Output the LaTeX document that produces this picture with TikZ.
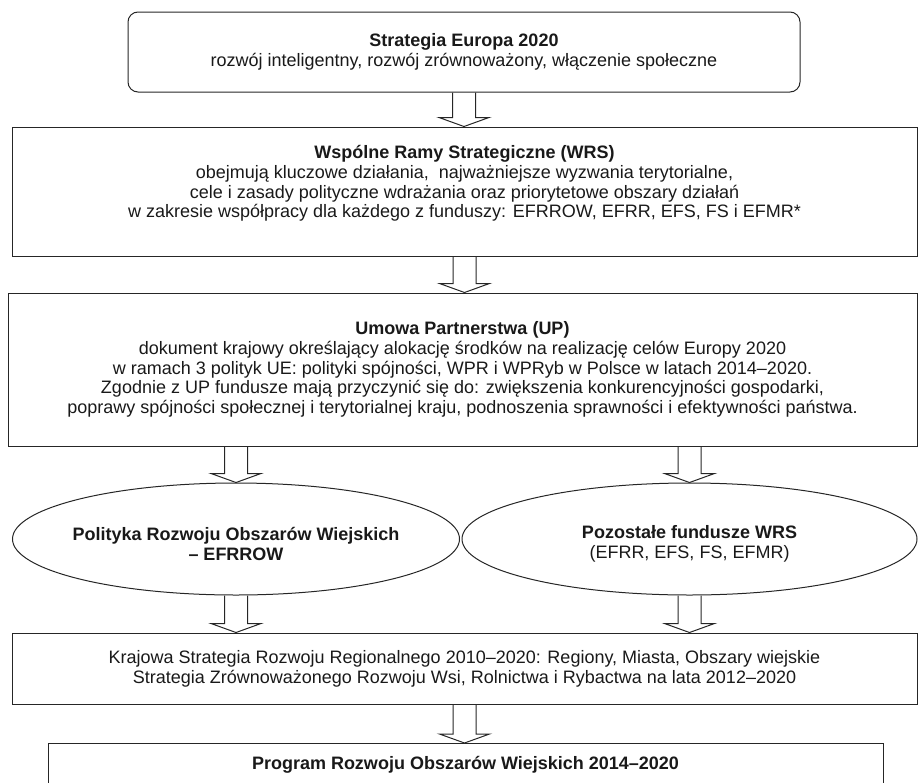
\documentclass[tikz,border=0pt]{standalone}
\usepackage{fontspec}
\setmainfont{Liberation Sans}
\usetikzlibrary{shapes.geometric,calc}

% hollow block arrow, from #1 straight down to the level of #2
\newcommand{\flowarrow}[2]{%
	\draw[flow] let \p1=(#1), \p2=(#2) in
		(\x1-11.5pt,\y1) -- (\x1-11.5pt,\y2+9pt) -- (\x1-25pt,\y2+9pt) -- (\x1,\y2)
		-- (\x1+25pt,\y2+9pt) -- (\x1+11.5pt,\y2+9pt) -- (\x1+11.5pt,\y1);}

\begin{document}
\begin{tikzpicture}[x=1pt,y=-1pt,
		box/.style={draw=black!85, line width=1pt, rectangle, align=center, inner sep=0pt,
			text=black!90, font=\fontsize{18}{19.7}\selectfont},
		roundbox/.style={box, rounded corners=10pt},
		oval/.style={draw=black!85, line width=1pt, ellipse, inner sep=0pt},
		ovaltext/.style={align=center, inner sep=0pt, text=black!90,
			font=\fontsize{18}{19.7}\selectfont},
		flow/.style={draw=black!85, line width=1pt, line join=miter}]
	\clip (0,0) rectangle (918,782);
	\node[roundbox, minimum width=672pt, minimum height=80pt] (es) at (464,52)
		{\textbf{Strategia Europa 2020}\\
		rozwój inteligentny, rozwój zrównoważony, włączenie społeczne};
	\node[box, minimum width=905pt, minimum height=129pt] (wrs) at (464.5,191.5)
		{\textbf{Wspólne Ramy Strategiczne (WRS)}\\
		obejmują kluczowe działania,~ najważniejsze wyzwania terytorialne,\\
		cele i zasady polityczne wdrażania oraz priorytetowe obszary działań\\
		w zakresie współpracy dla każdego z funduszy: EFRROW, EFRR, EFS, FS i EFMR*\\
		\mbox{}};
	\node[box, minimum width=909pt, minimum height=153pt] (up) at (462.5,369.5)
		{\textbf{Umowa Partnerstwa (UP)}\\
		dokument krajowy określający alokację środków na realizację celów Europy 2020\\
		w ramach 3 polityk UE: polityki spójności, WPR i WPRyb w Polsce w latach 2014–2020.\\
		Zgodnie z UP fundusze mają przyczynić się do: zwiększenia konkurencyjności gospodarki,\\
		poprawy spójności społecznej i terytorialnej kraju, podnoszenia sprawności i efektywności państwa.};
	% the two funds
	\node[oval, minimum width=447pt, minimum height=112pt] (rdev) at (236,539) {};
	\node[ovaltext] (rdevtext) at ([yshift=-5pt]rdev.center)
		{\textbf{Polityka Rozwoju Obszarów Wiejskich}\\ \textbf{– EFRROW}};
	\node[oval, minimum width=455pt, minimum height=112pt] (other) at (689.5,539) {};
	\node[ovaltext] (othertext) at ([yshift=-5pt]other.center)
		{\textbf{Pozostałe fundusze WRS}\\ (EFRR, EFS, FS, EFMR)};
	\node[box, minimum width=905pt, minimum height=71pt] (ksrr) at (464.5,668.5)
		{Krajowa Strategia Rozwoju Regionalnego 2010–2020: Regiony, Miasta, Obszary wiejskie\\
		Strategia Zrównoważonego Rozwoju Wsi, Rolnictwa i Rybactwa na lata 2012–2020};
	\node[box, anchor=north, minimum width=835pt, text height=13pt, text depth=60pt,
		inner ysep=13pt] (prow) at (465.5,743)
		{\textbf{Program Rozwoju Obszarów Wiejskich 2014–2020}};
	\flowarrow{es.south}{wrs.north}
	\flowarrow{wrs.south}{up.north}
	\flowarrow{up.south -| rdev.north}{rdev.north}
	\flowarrow{up.south -| other.north}{other.north}
	\flowarrow{rdev.south}{ksrr.north}
	\flowarrow{other.south}{ksrr.north}
	\flowarrow{ksrr.south}{prow.north}
\end{tikzpicture}
\end{document}
